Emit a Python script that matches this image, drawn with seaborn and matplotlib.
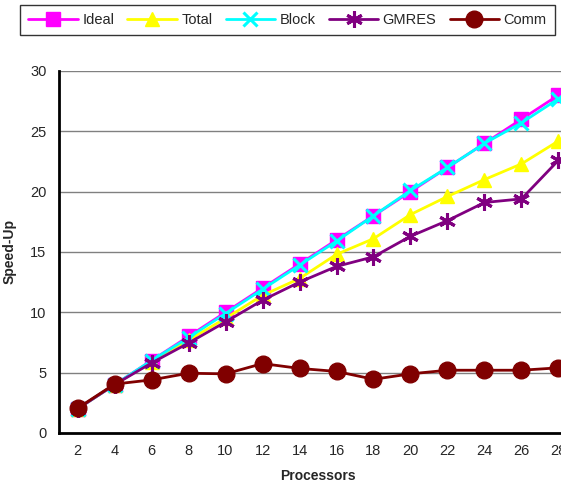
import matplotlib
matplotlib.use("Agg")
import matplotlib.pyplot as plt
import seaborn as sns
import numpy as np
from matplotlib.lines import Line2D

processors = [2, 4, 6, 8, 10, 12, 14, 16, 18, 20, 22, 24, 26, 28]
ideal = [2, 4, 6, 8, 10, 12, 14, 16, 18, 20, 22, 24, 26, 28]
total = [2, 4, 5.9, 7.7, 9.5, 11.4, 12.8, 14.8, 16.1, 18.1, 19.6, 21.0, 22.3, 24.2]
block = [2, 4, 6, 7.9, 9.9, 11.9, 13.9, 15.9, 18.0, 20.1, 22.0, 24.0, 25.7, 27.7]
gmres = [2, 4, 5.8, 7.45, 9.2, 11.0, 12.5, 13.8, 14.6, 16.3, 17.6, 19.1, 19.4, 22.6]
comm = [2.05, 4.05, 4.4, 4.95, 4.9, 5.75, 5.35, 5.1, 4.45, 4.9, 5.2, 5.2, 5.2, 5.4]
yticks = [0, 5, 10, 15, 20, 25, 30]

series = ["Ideal", "Total", "Block", "GMRES", "Comm"]
values = [ideal, total, block, gmres, comm]
colors = ["#FF00FF", "#FFFF00", "#00FFFF", "#800080", "#800000"]
markers = ["s", "^", "x", (6, 2, 0), "o"]
msizes = [10, 10, 10, 12, 12]

sns.set_style("white")
plt.rcParams["font.family"] = ["Liberation Sans", "DejaVu Sans"]

fig = plt.figure(figsize=(5.61, 4.86), dpi=100)
ax = fig.add_axes([0.1052, 0.1091, 0.9233, 0.7449])

xpos = np.arange(len(processors))
handles = []
for name, vals, c, m, ms in zip(series, values, colors, markers, msizes):
    filled = m not in ("x", (6, 2, 0))
    sns.lineplot(x=xpos, y=vals, ax=ax, color=c, linewidth=2, marker=m,
                 markersize=ms, markeredgecolor=c,
                 markerfacecolor=c if filled else "none",
                 markeredgewidth=1 if filled else 2.2, zorder=3)
    handles.append(Line2D([], [], color=c, linewidth=2, marker=m, markersize=ms,
                          markeredgecolor=c, markerfacecolor=c if filled else "none",
                          markeredgewidth=1 if filled else 2.2, label=name))

ax.set_xlim(-0.5, len(processors) - 0.5)
ax.set_ylim(0, 30)
ax.set_yticks(yticks)
ax.set_yticklabels([str(t) for t in yticks], fontsize=10.5)
ax.set_xticks(xpos)
ax.set_xticklabels([str(p) for p in processors], fontsize=10.5)
ax.set_xticks(np.arange(-0.5, len(processors)), minor=True)
ax.tick_params(axis="x", which="major", length=0, pad=8)
ax.tick_params(axis="x", which="minor", length=5, width=1, color="black", direction="out")
ax.tick_params(axis="y", which="major", length=5, width=1, color="black", direction="out", pad=4)

for y in yticks[1:]:
    ax.axhline(y, color="#808080", linewidth=1, zorder=1)

for s in ["left", "bottom"]:
    ax.spines[s].set_color("black")
    ax.spines[s].set_linewidth(2)
ax.spines["top"].set_visible(False)
ax.spines["right"].set_visible(False)

ax.set_xlabel("Processors", fontsize=10, fontweight="bold", labelpad=8)
ax.set_ylabel("Speed-Up", fontsize=10, fontweight="bold", labelpad=10)

leg = fig.legend(handles=handles, loc="center", bbox_to_anchor=(0.5125, 0.9588),
                 bbox_transform=fig.transFigure, ncol=5, fontsize=10.5, frameon=True,
                 fancybox=False, edgecolor="black", handlelength=3.4, handletextpad=0.3,
                 columnspacing=0.9, borderpad=0.55)
leg.get_frame().set_linewidth(1)

fig.savefig("out.png", dpi=100)
